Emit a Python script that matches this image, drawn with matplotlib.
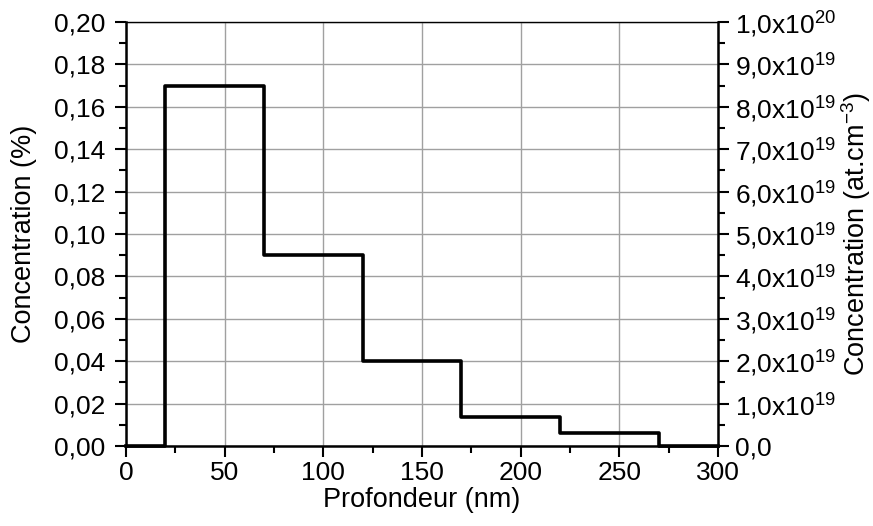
import matplotlib
matplotlib.use("Agg")
import matplotlib.pyplot as plt
from matplotlib.ticker import FuncFormatter, MultipleLocator

plt.rcParams['font.family'] = ['Liberation Sans', 'DejaVu Sans']
plt.rcParams['mathtext.fontset'] = 'custom'
plt.rcParams['mathtext.rm'] = 'Liberation Sans'
plt.rcParams['mathtext.default'] = 'regular'

# Data
depth_edges = [0, 20, 70, 120, 170, 220, 270, 300]
conc_percent = [0, 0.17, 0.09, 0.04, 0.0135, 0.006, 0]
right_ticks = [0, 1e19, 2e19, 3e19, 4e19, 5e19, 6e19, 7e19, 8e19, 9e19, 1e20]
right_labels = ['0,0', '1,0x10$^{19}$', '2,0x10$^{19}$', '3,0x10$^{19}$', '4,0x10$^{19}$',
                '5,0x10$^{19}$', '6,0x10$^{19}$', '7,0x10$^{19}$', '8,0x10$^{19}$',
                '9,0x10$^{19}$', '1,0x10$^{20}$']

FS_TICK = 19
FS_LAB = 19.5

fig = plt.figure(figsize=(8.73, 5.26), dpi=100)
ax = fig.add_axes([126/873, 1-446/526, (718-126)/873, (446-22)/526])

xs = depth_edges
ys = conc_percent + [conc_percent[-1]]
ax.step(xs, ys, where='post', color='black', lw=2.6, zorder=3, clip_on=False)

ax.set_xlim(0, 300)
ax.set_ylim(0, 0.20)
ax.xaxis.set_major_locator(MultipleLocator(50))
ax.xaxis.set_minor_locator(MultipleLocator(25))
ax.yaxis.set_major_locator(MultipleLocator(0.02))
ax.yaxis.set_minor_locator(MultipleLocator(0.01))
ax.yaxis.set_major_formatter(FuncFormatter(lambda v, p: f"{v:.2f}".replace('.', ',')))
ax.xaxis.set_major_formatter(FuncFormatter(lambda v, p: f"{v:.0f}"))

ax.grid(True, which='major', color='#a0a0a0', lw=1.0)
ax.set_axisbelow(True)

for s in ['left', 'bottom', 'right']:
    ax.spines[s].set_linewidth(1.8)
ax.spines['top'].set_linewidth(1.0)

ax.tick_params(axis='both', which='major', direction='out', length=8, width=1.5,
               labelsize=FS_TICK, colors='black')
ax.tick_params(axis='y', which='major', pad=7)
ax.tick_params(axis='x', which='major', pad=3)
ax.tick_params(axis='both', which='minor', direction='out', length=5, width=1.5)

ax.set_xlabel('Profondeur (nm)', fontsize=FS_LAB, labelpad=1)
ax.set_ylabel('Concentration (%)', fontsize=FS_LAB, labelpad=12)

ax2 = ax.twinx()
ax2.set_ylim(0, 1e20)
ax2.set_yticks(right_ticks)
ax2.set_yticklabels(right_labels)
ax2.yaxis.set_minor_locator(MultipleLocator(5e18))
ax2.tick_params(axis='y', which='major', direction='out', length=8, width=1.5,
                labelsize=FS_TICK, pad=4)
ax2.tick_params(axis='y', which='minor', direction='out', length=5, width=1.5)
for s in ax2.spines.values():
    s.set_visible(False)
ax2.set_ylabel('Concentration (at.cm$^{-3}$)', fontsize=FS_LAB, rotation=90, labelpad=2)

fig.savefig('out.png', dpi=100)
